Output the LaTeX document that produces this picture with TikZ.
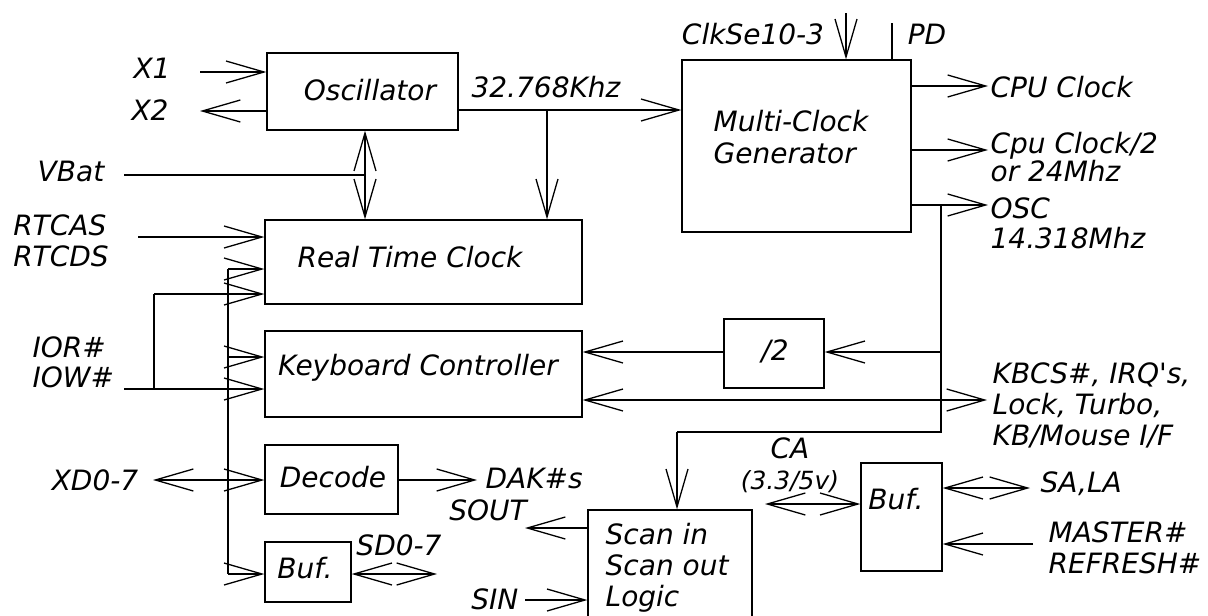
\documentclass[tikz,border=0pt]{standalone}
\usepackage{fontspec}
\setmainfont{DejaVu Sans}
\usetikzlibrary{arrows.meta,positioning}

\begin{document}
\begin{tikzpicture}[x=1pt,y=-1pt,line width=1.3pt,
    >={Straight Barb[length=38pt,width=22pt]},
    every node/.style={font=\fontsize{28}{31}\selectfont\itshape,inner sep=0pt},
    blk/.style={draw,rectangle}]
  \useasboundingbox (0,0) rectangle (1208,616);
  \node[blk,minimum width=191pt,minimum height=77pt] (osc) at (362.5,91.5) {};
  \node[blk,minimum width=229pt,minimum height=172pt] (mcg) at (796.5,146) {};
  \node[blk,minimum width=317pt,minimum height=84pt] (rtc) at (423.5,262) {};
  \node[blk,minimum width=317pt,minimum height=86pt] (kc) at (423.5,374) {};
  \node[blk,minimum width=133pt,minimum height=69pt] (dec) at (331.5,479.5) {};
  \node[blk,minimum width=86pt,minimum height=60pt] (buf1) at (308,572) {};
  \node[blk,minimum width=100pt,minimum height=69pt] (half) at (774,353.5) {};
  \node[blk,minimum width=164pt,minimum height=130pt] (scan) at (670,575) {};
  \node[blk,minimum width=81pt,minimum height=108pt] (buf2) at (901.5,517) {};
  \node (osct) at (370,90) {Oscillator};
  \node[anchor=west,align=left,font=\fontsize{28}{32}\selectfont\itshape] (mcgt) at (713,137) {Multi-Clock\\Generator};
  \node (rtct) at (410,257) {Real Time Clock};
  \node (kct) at (418,368) {Keyboard Controller};
  \node (dect) at (333,477) {Decode};
  \node (buf1t) at (305,568) {Buf.};
  \node (halft) at (775,351) {/2};
  \node[anchor=west,align=left] (scant) at (605,568) {Scan in\\Scan out\\Logic};
  \node (buf2t) at (896,499) {Buf.};
  \coordinate (x1in) at (200,72);
  \coordinate (x2out) at (200,111);
  \draw[->] (x1in) -- (x1in -| osc.west);
  \draw[->] (x2out -| osc.west) -- (x2out);
  \node (x1) at (152,68) {X1};
  \node (x2) at (150,110) {X2};
  \coordinate (fork) at (547,110);
  \draw[->] (fork -| osc.east) -- (fork -| mcg.west);
  \draw[->] (fork) -- (fork |- rtc.north);
  \node (khz) at (546,87) {32.768Khz};
  \coordinate (vbj) at (365,175);
  \coordinate (vbin) at (124,175);
  \draw[<->] (vbj |- osc.south) -- (vbj |- rtc.north);
  \draw (vbin) -- (vbj);
  \node (vbat) at (71,171) {VBat};
  \coordinate (clk) at (846,13);
  \draw[->] (clk) -- (clk |- mcg.north);
  \node (clksel) at (753,34) {ClkSe10-3};
  \coordinate (pd) at (892,23);
  \draw (pd) -- (pd |- mcg.north);
  \node (pdl) at (927,34) {PD};
  \coordinate (cpu) at (988,86);
  \draw[->] (cpu -| mcg.east) -- (cpu);
  \node[anchor=west] (cpul) at (990,87) {CPU Clock};
  \coordinate (cpu2) at (988,150);
  \draw[->] (cpu2 -| mcg.east) -- (cpu2);
  \node[anchor=west,align=left,font=\fontsize{28}{28}\selectfont\itshape] (cpu2l) at (990,157) {Cpu Clock/2\\or 24Mhz};
  \coordinate (osco) at (988,205);
  \draw[->] (osco -| mcg.east) -- (osco);
  \node[anchor=west,align=left,font=\fontsize{28}{30}\selectfont\itshape] (oscl) at (990,223) {OSC\\14.318Mhz};
  \coordinate (ot) at (941,205);
  \coordinate (oh) at (941,352);
  \coordinate (ob) at (941,432);
  \coordinate (oc) at (677,432);
  \draw (ot) -- (ob) -- (oc);
  \draw[->] (oc) -- (oc |- scan.north);
  \draw[->] (oh) -- (oh -| half.east);
  \draw[->] (oh -| half.west) -- (oh -| kc.east);
  \coordinate (kb) at (987,400);
  \draw[<->] (kb -| kc.east) -- (kb);
  \node[anchor=west,align=left] (kbcs) at (992,405) {KBCS\#, IRQ\textquotesingle s,\\Lock, Turbo,\\KB/Mouse I/F};
  \coordinate (rtcin) at (138,237);
  \draw[->] (rtcin) -- (rtcin -| rtc.west);
  \node[align=left] (rtcas) at (61,241) {RTCAS\\RTCDS};
  \coordinate (bt) at (228,269);
  \coordinate (bk) at (228,357);
  \coordinate (bb) at (228,574);
  \draw (bt) -- (bb);
  \draw[->] (bt) -- (bt -| rtc.west);
  \draw[->] (bk) -- (bk -| kc.west);
  \draw[->] (bb) -- (bb -| buf1.west);
  \coordinate (iow) at (124,389);
  \coordinate (ioj) at (154,389);
  \coordinate (ior) at (154,294);
  \draw[->] (iow) -- (iow -| kc.west);
  \draw (ioj) -- (ior);
  \draw[->] (ior) -- (ior -| rtc.west);
  \node[anchor=west,align=left,font=\fontsize{28}{30}\selectfont\itshape] (iorl) at (32,362) {IOR\#\\IOW\#};
  \coordinate (xd) at (153,480);
  \draw[<->] (xd) -- (xd -| dec.west);
  \node (xdl) at (95,480) {XD0-7};
  \coordinate (dak) at (477,480);
  \draw[->] (dak -| dec.east) -- (dak);
  \node[anchor=west] (dakl) at (485,478) {DAK\#s};
  \coordinate (sout) at (525,528);
  \draw[->] (sout -| scan.west) -- (sout);
  \node (soutl) at (488,510) {SOUT};
  \coordinate (sin) at (525,600);
  \draw[->] (sin) -- (sin -| scan.west);
  \node[anchor=east] (sinl) at (519,599) {SIN};
  \coordinate (sd) at (437,574);
  \draw[<->] (sd -| buf1.east) -- (sd);
  \node (sdl) at (399,545) {SD0-7};
  \coordinate (ca) at (765,504);
  \draw[<->] (ca) -- (ca -| buf2.west);
  \node[align=center] (cal) at (790,465) {CA\\\fontsize{25}{28}\selectfont(3.3/5v)};
  \coordinate (sa) at (1030,488);
  \draw[<->] (sa -| buf2.east) -- (sa);
  \node[anchor=west] (sal) at (1040,484) {SA,LA};
  \coordinate (ms) at (1033,544);
  \draw[->] (ms) -- (ms -| buf2.east);
  \node[anchor=west,align=left] (msl) at (1048,548) {MASTER\#\\REFRESH\#};
\end{tikzpicture}
\end{document}
